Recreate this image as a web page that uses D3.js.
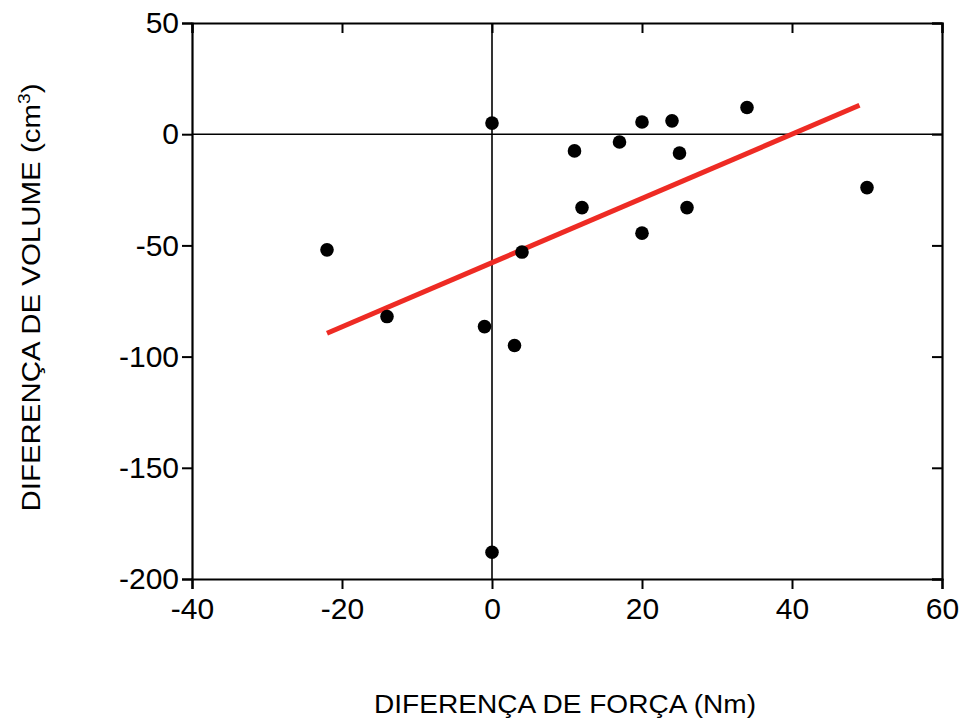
<!DOCTYPE html>
<html>
<head>
<meta charset="utf-8">
<script src="https://cdn.jsdelivr.net/npm/d3@7"></script>
<style>
    body { margin: 0; background: #fff; }
    text { font-family: "Liberation Sans", Arial, sans-serif; fill: #000; }
</style>
</head>
<body>
<div class="container"></div>
<script>
// force difference (Nm) vs volume difference (cm3)
let forca = [-22, -14, -1, 3, 0, 4, 11, 12, 17, 20, 24, 25, 34, 50, 26, 20, 0];
let volume = [-52, -82, -86.5, -95, 5, -53, -7.5, -33, -3.5, 5.5, 6, -8.5, 12, -24, -33, -44.5, -188];

// fitted line end points
let fitX = [-22, 49];
let fitY = [-89.5, 13];

let xTicks = [-40, -20, 0, 20, 40, 60];
let yTicks = [50, 0, -50, -100, -150, -200];

let margin = { top: 23, right: 23, bottom: 148, left: 192 };
let width = 965 - margin.left - margin.right;
let height = 727 - margin.top - margin.bottom;

let svg = d3.select(".container")
    .append("svg")
    .attr("width", 965)
    .attr("height", 727)
    .append("g")
    .attr("transform", "translate(" + margin.left + "," + margin.top + ")");

let x = d3.scaleLinear().domain([-40, 60]).range([0, width]);
let y = d3.scaleLinear().domain([-200, 50]).range([height, 0]);

// plain hyphen for negatives, like the original
let fmt = function (d) { return String(d); };

// bottom axis
let xAxis = svg.append("g")
    .attr("transform", "translate(0," + height + ")")
    .call(d3.axisBottom(x).tickValues(xTicks).tickSize(10).tickPadding(9).tickFormat(fmt));

// left axis
let yAxis = svg.append("g")
    .call(d3.axisLeft(y).tickValues(yTicks).tickSize(10).tickPadding(3).tickFormat(fmt));

// top and right, ticks inward
let topAxis = svg.append("g")
    .call(d3.axisTop(x).tickValues(xTicks).tickSize(-10).tickFormat(""));
let rightAxis = svg.append("g")
    .attr("transform", "translate(" + width + ",0)")
    .call(d3.axisRight(y).tickValues(yTicks).tickSize(-10).tickFormat(""));

[xAxis, yAxis, topAxis, rightAxis].forEach(function (a) {
    a.select(".domain").attr("stroke", "#000").attr("stroke-width", 2.2);
    a.selectAll(".tick line").attr("stroke", "#000").attr("stroke-width", 2);
    a.selectAll(".tick text").style("font-size", "30px").attr("fill", "#000");
});

// zero lines
svg.append("line")
    .attr("x1", x(0)).attr("x2", x(0))
    .attr("y1", 0).attr("y2", height)
    .attr("stroke", "#000").attr("stroke-width", 1.6);
svg.append("line")
    .attr("x1", 0).attr("x2", width)
    .attr("y1", y(0)).attr("y2", y(0))
    .attr("stroke", "#000").attr("stroke-width", 1.6);

// regression line
svg.append("line")
    .attr("x1", x(fitX[0])).attr("y1", y(fitY[0]))
    .attr("x2", x(fitX[1])).attr("y2", y(fitY[1]))
    .attr("stroke", "#ee2b24")
    .attr("stroke-width", 5);

// points
svg.append("g")
    .selectAll("circle")
    .data(forca)
    .enter()
    .append("circle")
    .attr("cx", function (d) { return x(d); })
    .attr("cy", function (d, i) { return y(volume[i]); })
    .attr("r", 6.8)
    .style("fill", "#000");

// axis titles
svg.append("text")
    .attr("x", 373)
    .attr("y", 690)
    .attr("text-anchor", "middle")
    .attr("textLength", 382)
    .attr("lengthAdjust", "spacingAndGlyphs")
    .style("font-size", "25px")
    .text("DIFERENÇA DE FORÇA (Nm)");

let yt = svg.append("text")
    .attr("transform", "translate(-152," + 274.5 + ") rotate(-90)")
    .attr("text-anchor", "middle")
    .attr("textLength", 428)
    .attr("lengthAdjust", "spacingAndGlyphs")
    .style("font-size", "26px");
yt.append("tspan").text("DIFERENÇA DE VOLUME (cm");
yt.append("tspan").attr("dy", -10).style("font-size", "17px").text("3");
yt.append("tspan").attr("dy", 10).text(")");
</script>
</body>
</html>
